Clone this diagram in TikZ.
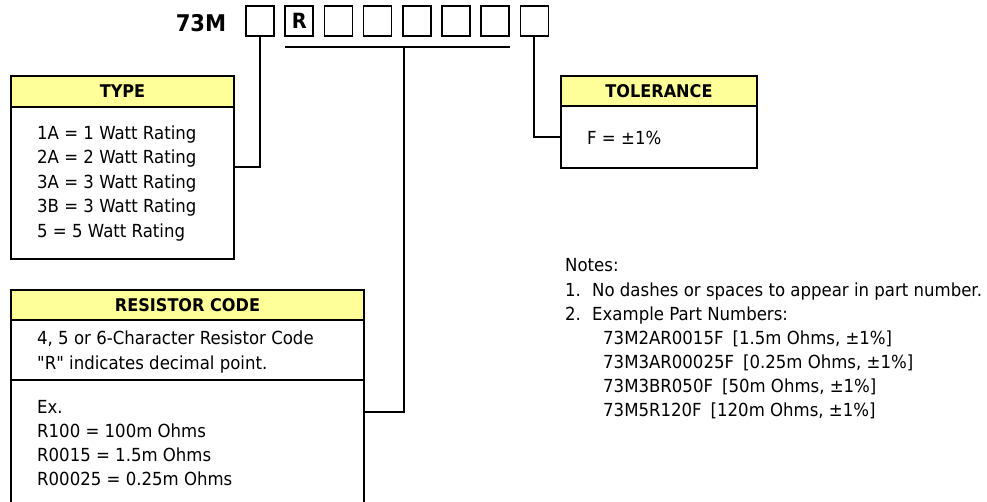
\documentclass[tikz,border=0pt]{standalone}
\usepackage{fontspec}
\setmainfont{DejaVu Sans}[FakeStretch=0.92, Ligatures=TeXOff]
\definecolor{hdr}{HTML}{FFFF99}
\tikzset{
  digit/.style={draw, line width=1.5pt, minimum width=28pt, minimum height=30pt, inner sep=0pt},
  frame/.style={draw, line width=2.4pt, inner sep=0pt},
  hdrbox/.style={draw, fill=hdr, line width=2.4pt, inner sep=0pt, font=\bfseries\fontsize{17.5}{20}\selectfont},
  txt/.style={anchor=west, inner sep=0pt, text height=13pt, text depth=0pt, font=\fontsize{18}{21}\selectfont},
  wire/.style={line width=2pt}
}
\begin{document}
\begin{tikzpicture}[x=1pt,y=-1pt]
\useasboundingbox (0,0) rectangle (987,502);
\clip (0,0) rectangle (987,502);
% part number
\node[anchor=center, inner sep=0pt, font=\bfseries\fontsize{23}{26}\selectfont] (pn) at (201,23) {73M};
\foreach \i in {1,...,8} {
  \node[digit] (b\i) at ({260+39.2*(\i-1)},21) {};
}
\node[inner sep=0pt, font=\bfseries\fontsize{21}{24}\selectfont] (rch) at (b2) {R};
\coordinate (barL) at (285,47);
\coordinate (barR) at (510,47);
\coordinate (barM) at (404,47);
\draw[wire] (barL) -- (barR);
% TYPE
\node[frame, minimum width=223pt, minimum height=183pt] (type) at (122.5,167.5) {};
\node[hdrbox, minimum width=223pt, minimum height=31pt] (typeh) at (122.5,91.5) {TYPE};
\foreach \t [count=\k from 0] in {1A = 1 Watt Rating, 2A = 2 Watt Rating, 3A = 3 Watt Rating, 3B = 3 Watt Rating, 5 = 5 Watt Rating} {
  \node[txt] (ty\k) at (37,{133+24.5*\k}) {\t};
}
\draw[wire] (b1.south) |- (type.east);
% TOLERANCE
\node[hdrbox, minimum width=196pt, minimum height=30pt] (tolh) at (659,91) {TOLERANCE};
\node[frame, minimum width=196pt, minimum height=62pt] (tolb) at (659,137) {};
\node[txt] (tolt) at (587,138) {F = ±1\%};
\draw[wire] (b8.south) |- (tolb.west);
% RESISTOR CODE
\node[frame, minimum width=353pt, minimum height=60pt] (resd) at (187.5,350) {};
\node[frame, minimum width=353pt, minimum height=140pt] (rese) at (187.5,450) {};
\node[hdrbox, minimum width=353pt, minimum height=30pt] (resh) at (187.5,305) {RESISTOR CODE};
\node[txt] (rd1) at (37,338) {4, 5 or 6-Character Resistor Code};
\node[txt] (rd2) at (37,363) {"R" indicates decimal point.};
\node[txt] (re0) at (37,407) {Ex.};
\node[txt] (re1) at (37,431) {R100 = 100m Ohms};
\node[txt] (re2) at (37,455) {R0015 = 1.5m Ohms};
\node[txt] (re3) at (37,479) {R00025 = 0.25m Ohms};
\coordinate (resj) at (364,412);
\draw[wire] (barM) |- (resj);
% Notes
\node[txt] (nh) at (565,265) {Notes:};
\node[txt] (n1a) at (565,290) {1.};
\node[txt] (n1) at (592,290) {No dashes or spaces to appear in part number.};
\node[txt] (n2a) at (565,314) {2.};
\node[txt] (n2) at (592,314) {Example Part Numbers:};
\node[txt] (e1) at (603,338) {73M2AR0015F\hspace{0.5em}[1.5m Ohms, ±1\%]};
\node[txt] (e2) at (603,362) {73M3AR00025F\hspace{0.5em}[0.25m Ohms, ±1\%]};
\node[txt] (e3) at (603,386) {73M3BR050F\hspace{0.5em}[50m Ohms, ±1\%]};
\node[txt] (e4) at (603,410) {73M5R120F\hspace{0.5em}[120m Ohms, ±1\%]};
\end{tikzpicture}
\end{document}
